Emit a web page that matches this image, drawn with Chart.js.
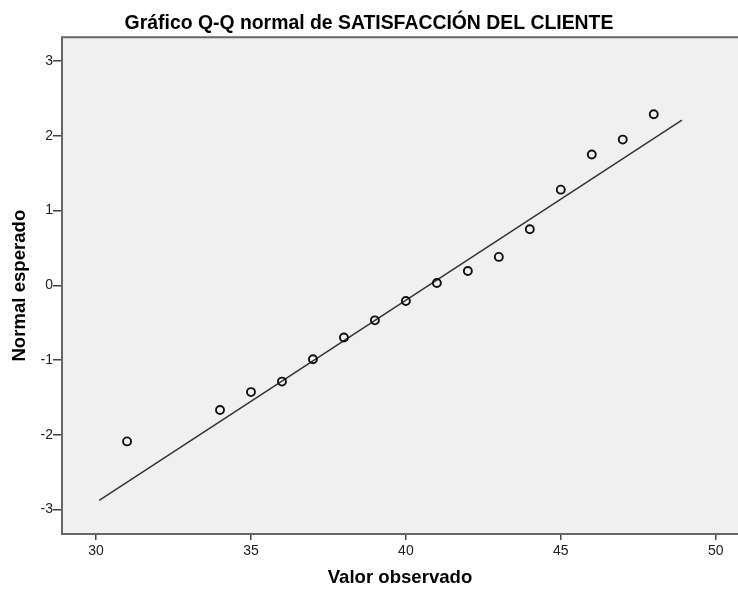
<!DOCTYPE html>
<html>
<head>
<meta charset="utf-8">
<script src="https://cdn.jsdelivr.net/npm/chart.js@4.4.1/dist/chart.umd.min.js"></script>
<style>
  html, body { margin: 0; padding: 0; background: #fff; overflow: hidden; }
  #wrap { width: 738px; height: 589px; }
  canvas { display: block; }
</style>
</head>
<body>
<div id="wrap"><canvas id="myChart" width="738" height="589"></canvas></div>
<script>
const observed = [31, 34, 35, 36, 37, 38, 39, 40, 41, 42, 43, 44, 45, 46, 47, 48];
const expected = [-2.09, -1.67, -1.43, -1.29, -0.99, -0.70, -0.47, -0.21, 0.03, 0.19, 0.38, 0.75, 1.28, 1.75, 1.95, 2.29];

// recta de referencia
const lineX = [30.10, 48.91];
const lineY = [-2.88, 2.21];

const chartTitle = "Gráfico Q-Q normal de SATISFACCIÓN DEL CLIENTE";
const xTitle = "Valor observado";
const yTitle = "Normal esperado";

const points = observed.map((v, i) => ({ x: v, y: expected[i] }));
const refLine = lineX.map((v, i) => ({ x: v, y: lineY[i] }));

/* fondo gris y marco del area de trazado */
const plotFrame = {
  id: "plotFrame",
  beforeDatasetsDraw(chart) {
    const { ctx, chartArea: a } = chart;
    ctx.save();
    ctx.fillStyle = "#f0f0f0";
    ctx.fillRect(a.left, a.top, a.right - a.left, a.bottom - a.top);
    ctx.restore();
  },
  afterDatasetsDraw(chart) {
    const { ctx, chartArea: a } = chart;
    ctx.save();
    ctx.strokeStyle = "#666";
    ctx.lineWidth = 2;
    ctx.beginPath();
    ctx.moveTo(a.right + 2, a.top);
    ctx.lineTo(a.left, a.top);
    ctx.lineTo(a.left, a.bottom);
    ctx.lineTo(a.right + 2, a.bottom);
    ctx.stroke();
    ctx.restore();
  },
};

const tickFont = { family: "'Liberation Sans Narrow', 'Liberation Sans', Arial, sans-serif", size: 14 };
const boldFont = { family: "'Liberation Sans', Arial, sans-serif", size: 18.6, weight: "bold" };

const config = {
  type: "scatter",
  data: {
    datasets: [
      {
        label: "Observado",
        data: points,
        pointRadius: 4,
        pointBorderWidth: 1.9,
        pointBorderColor: "#111",
        pointBackgroundColor: "rgba(0,0,0,0)",
        showLine: false,
      },
      {
        label: "Recta",
        data: refLine,
        showLine: true,
        pointRadius: 0,
        borderColor: "#333",
        borderWidth: 1.5,
        fill: false,
      },
    ],
  },
  options: {
    responsive: false,
    animation: false,
    layout: { padding: 0, autoPadding: false },
    plugins: {
      legend: { display: false },
      tooltip: { enabled: false },
      title: {
        display: true,
        text: chartTitle,
        color: "#000",
        font: { family: "'Liberation Sans', Arial, sans-serif", size: 19.4, weight: "bold" },
        padding: { top: 12, bottom: 2 },
      },
    },
    scales: {
      x: {
        type: "linear",
        min: 28.9,
        max: 50.72,
        afterFit: (s) => { s.height = 55; s.paddingLeft = 0; s.paddingRight = 0; },
        border: { display: false },
        grid: { drawOnChartArea: false, drawTicks: true, tickLength: 6, color: "#444", lineWidth: 1.5 },
        ticks: { stepSize: 5, includeBounds: false, padding: 3, color: "#222", font: tickFont, maxRotation: 0 },
        title: { display: true, text: xTitle, color: "#000", font: boldFont, padding: { top: 0, bottom: 0 } },
      },
      y: {
        type: "linear",
        min: -3.33,
        max: 3.32,
        afterFit: (s) => { s.width = 62; s.paddingTop = 0; s.paddingBottom = 0; },
        border: { display: false },
        grid: { drawOnChartArea: false, drawTicks: true, tickLength: 9, color: "#444", lineWidth: 1.5 },
        ticks: { stepSize: 1, includeBounds: false, padding: 0, color: "#222", font: tickFont },
        title: { display: true, text: yTitle, color: "#000", font: boldFont, padding: { top: 9, bottom: 0 } },
      },
    },
  },
  plugins: [plotFrame],
};

const context = document.getElementById("myChart").getContext("2d");
const chart = new Chart(context, config);
</script>
</body>
</html>
